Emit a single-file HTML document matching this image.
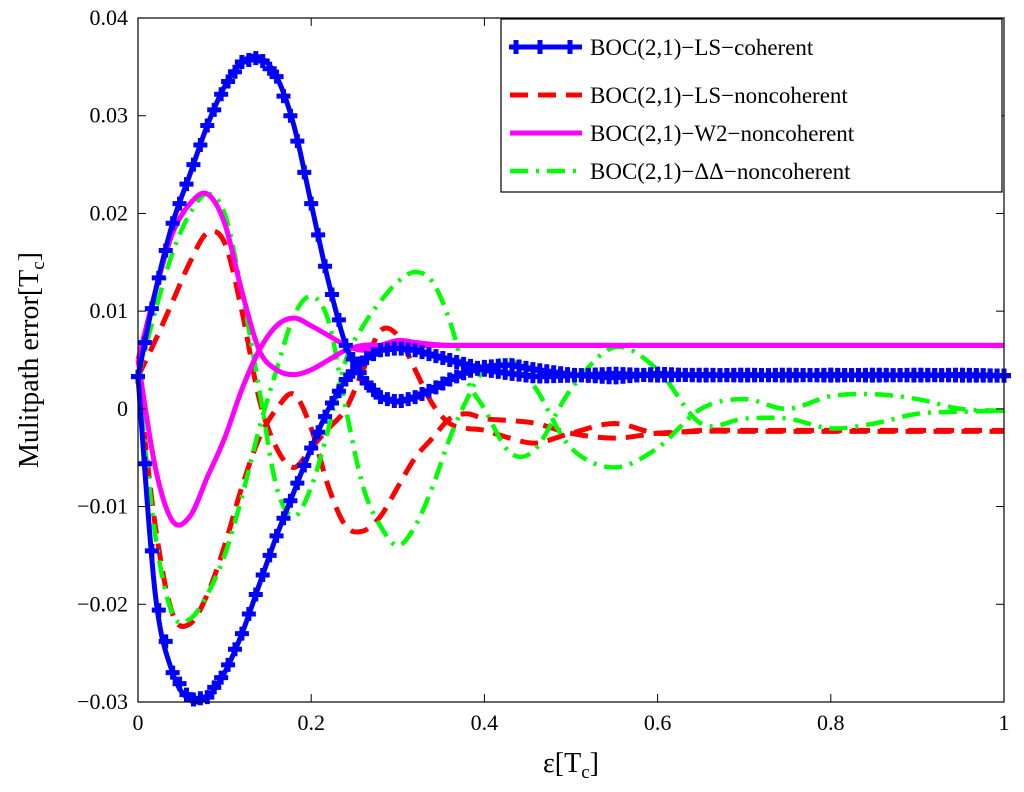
<!DOCTYPE html>
<html><head><meta charset="utf-8"><style>
body{margin:0;background:#fff}
svg{display:block;font-family:"Liberation Serif",serif}
</style></head><body>
<svg id="c" width="1024" height="792"></svg>
<script>
const xs=[0,.02,.04,.06,.08,.10,.12,.14,.16,.18,.20,.22,.24,.26,.28,.30,.32,.34,.36,.38,.40,.43,.46,.5,.55,.6,.65,.7,.75,.8,.85,.9,.95,1.0];
const blueUpper=[0.0033,0.012,0.019,0.024,0.029,0.033,0.0355,0.036,0.034,0.029,0.021,0.013,0.0065,0.003,0.0012,0.0007,0.0012,0.002,0.003,0.0038,0.0043,0.0045,0.004,0.0035,0.0032,0.0036,0.0034,0.0035,0.0034,0.0035,0.0034,0.0035,0.0034,0.0034];
const blueLower=[0.0033,-0.019,-0.027,-0.0298,-0.0295,-0.027,-0.023,-0.018,-0.013,-0.0085,-0.004,0.0,0.003,0.005,0.006,0.0062,0.006,0.0055,0.005,0.0045,0.004,0.0036,0.0033,0.0034,0.0036,0.0034,0.0035,0.0034,0.0035,0.0034,0.0035,0.0034,0.0035,0.0034];
const redUpper=[0.0033,0.007,0.011,0.015,0.018,0.017,0.010,0.001,-0.004,-0.006,-0.004,-0.002,0.0,0.004,0.008,0.0075,0.004,0.0005,-0.0015,-0.002,-0.0022,-0.003,-0.0035,-0.0025,-0.0015,-0.0025,-0.0022,-0.0022,-0.0022,-0.0022,-0.0022,-0.0022,-0.0022,-0.0022];
const redLower=[0.0033,-0.012,-0.021,-0.022,-0.019,-0.014,-0.008,-0.003,0.0,0.0015,-0.002,-0.008,-0.012,-0.0125,-0.011,-0.008,-0.005,-0.003,-0.001,-0.0005,-0.001,-0.0012,-0.0015,-0.0025,-0.003,-0.0025,-0.0023,-0.0023,-0.0023,-0.0023,-0.0023,-0.0023,-0.0023,-0.0023];
const magUpper=[0.005,0.012,0.018,0.021,0.022,0.019,0.012,0.006,0.004,0.0035,0.004,0.005,0.006,0.0065,0.0065,0.0065,0.0065,0.0065,0.0065,0.0065,0.0065,0.0065,0.0065,0.0065,0.0065,0.0065,0.0065,0.0065,0.0065,0.0065,0.0065,0.0065,0.0065,0.0065];
const magLower=[0.005,-0.006,-0.0115,-0.011,-0.007,-0.003,0.002,0.006,0.0085,0.0093,0.0085,0.0075,0.0065,0.006,0.0065,0.007,0.0068,0.0066,0.0065,0.0065,0.0065,0.0065,0.0065,0.0065,0.0065,0.0065,0.0065,0.0065,0.0065,0.0065,0.0065,0.0065,0.0065,0.0065];
const greenUpper=[0.0033,0.01,0.016,0.020,0.022,0.020,0.012,0.002,-0.008,-0.011,-0.008,-0.002,0.005,0.0085,0.011,0.013,0.014,0.013,0.009,0.003,0.0,-0.0045,-0.004,0.002,0.0063,0.004,-0.0015,-0.001,-0.001,-0.002,-0.0015,-0.0005,-0.0003,-0.0002];
const greenLower=[0.0033,-0.013,-0.021,-0.0215,-0.019,-0.015,-0.009,-0.002,0.004,0.0095,0.0115,0.009,0.0,-0.008,-0.012,-0.014,-0.012,-0.008,-0.003,0.001,0.004,0.005,0.002,-0.004,-0.006,-0.004,0.0,0.001,0.0,0.0013,0.0015,0.001,0.0,-0.0002];
const xTicks=[0,0.2,0.4,0.6,0.8,1];
const xTickLabels=["0","0.2","0.4","0.6","0.8","1"];
const yTicks=[-0.03,-0.02,-0.01,0,0.01,0.02,0.03,0.04];
const yTickLabels=["\u22120.03","\u22120.02","\u22120.01","0","0.01","0.02","0.03","0.04"];

const L=138,R=1004,T=18,B=702;
const X=v=>L+(R-L)*v;
const Y=v=>B-(B-T)*(v+0.03)/0.07;
const svg=document.getElementById('c');
const NS='http://www.w3.org/2000/svg';
function mk(tag,attrs,parent){const e=document.createElementNS(NS,tag);for(const k in attrs)e.setAttribute(k,attrs[k]);(parent||svg).appendChild(e);return e;}
function pathD(ys){const p=xs.map((x,i)=>[X(x),Y(ys[i])]);let d='M'+p[0][0]+','+p[0][1];
for(let i=0;i<p.length-1;i++){const p0=p[Math.max(i-1,0)],p1=p[i],p2=p[i+1],p3=p[Math.min(i+2,p.length-1)];
d+=' C'+(p1[0]+(p2[0]-p0[0])/6)+','+(p1[1]+(p2[1]-p0[1])/6)+' '+(p2[0]-(p3[0]-p1[0])/6)+','+(p2[1]-(p3[1]-p1[1])/6)+' '+p2[0]+','+p2[1];}return d;}

mk('rect',{x:L,y:T,width:R-L,height:B-T,fill:'#fff',stroke:'none'});
const plot=mk('g',{});


function series(ys,color,w,dash,name){const e=mk('path',{d:pathD(ys),fill:'none',stroke:color,'stroke-width':w,'stroke-dasharray':dash,'stroke-linejoin':'round'},plot);

return e;}
series(redUpper,'#ff0000',5,'18,10','red-ls-noncoherent-upper');
series(redLower,'#ff0000',5,'18,10','red-ls-noncoherent-lower');
series(greenUpper,'#00ff00',4.5,'18,8,3,8','green-dd-noncoherent-upper');
series(greenLower,'#00ff00',4.5,'18,8,3,8','green-dd-noncoherent-lower');
series(magUpper,'#ff00ff',5,'none','magenta-w2-noncoherent-upper');
series(magLower,'#ff00ff',5,'none','magenta-w2-noncoherent-lower');
series(blueUpper,'#0000ff',5,'none','blue-ls-coherent-upper');
series(blueLower,'#0000ff',5,'none','blue-ls-coherent-lower');
function interp(ys,x){for(let i=0;i<xs.length-1;i++){if(x<=xs[i+1]){const t=(x-xs[i])/(xs[i+1]-xs[i]);return ys[i]+t*(ys[i+1]-ys[i]);}}return ys[ys.length-1];}
function plus(cx,cy){mk('path',{d:`M${cx-7},${cy}H${cx+7}M${cx},${cy-7}V${cy+7}`,stroke:'#0000ff','stroke-width':5},plot);}
[blueUpper,blueLower].forEach(ys=>{for(let x=0;x<=1.0001;x+=0.008){plus(X(x),Y(interp(ys,x)));}});

mk('rect',{x:L,y:T,width:R-L,height:B-T,fill:'none',stroke:'#000','stroke-width':1.2});
xTicks.forEach((v,i)=>{mk('line',{x1:X(v),x2:X(v),y1:B,y2:B-8,stroke:'#000'});mk('line',{x1:X(v),x2:X(v),y1:T,y2:T+8,stroke:'#000'});
const t=mk('text',{x:X(v),y:B+28,'font-size':22,'text-anchor':'middle'});t.textContent=xTickLabels[i];

});
yTicks.forEach((v,i)=>{mk('line',{x1:L,x2:L+8,y1:Y(v),y2:Y(v),stroke:'#000'});mk('line',{x1:R,x2:R-8,y1:Y(v),y2:Y(v),stroke:'#000'});
const t=mk('text',{x:L-10,y:Y(v)+7,'font-size':22,'text-anchor':'end'});t.textContent=yTickLabels[i];

});
</script>
<svg width="1024" height="792" style="position:absolute;left:0;top:0;font-family:'Liberation Serif',serif">
<text x="571" y="772" font-size="28" text-anchor="middle">ε[T<tspan font-size="19" dy="6">c</tspan><tspan dy="-6">]</tspan></text>
<text transform="translate(38,360) rotate(-90)" font-size="28" text-anchor="middle">Mulitpath error[T<tspan font-size="19" dy="6">c</tspan><tspan dy="-6">]</tspan></text>
<g>
<rect x="501" y="19" width="501" height="173" fill="#fff" stroke="#000" stroke-width="1.2"/>
<g><line x1="510" y1="47" x2="582" y2="47" stroke="#0000ff" stroke-width="5"/><path d="M540,40V54M533,47H547M570,40V54M563,47H577M516,40V54M509,47H523" stroke="#0000ff" stroke-width="5"/><text x="590" y="55" font-size="23">BOC(2,1)−LS−coherent</text></g>
<g><line x1="510" y1="95" x2="582" y2="95" stroke="#ff0000" stroke-width="5" stroke-dasharray="18,10"/><text x="590" y="103" font-size="23">BOC(2,1)−LS−noncoherent</text></g>
<g><line x1="510" y1="133" x2="582" y2="133" stroke="#ff00ff" stroke-width="5"/><text x="590" y="141" font-size="23">BOC(2,1)−W2−noncoherent</text></g>
<g><line x1="510" y1="171" x2="582" y2="171" stroke="#00ff00" stroke-width="4.5" stroke-dasharray="18,8,3,8"/><text x="590" y="179" font-size="23">BOC(2,1)−ΔΔ−noncoherent</text></g>
</g>
</svg>
</body></html>
